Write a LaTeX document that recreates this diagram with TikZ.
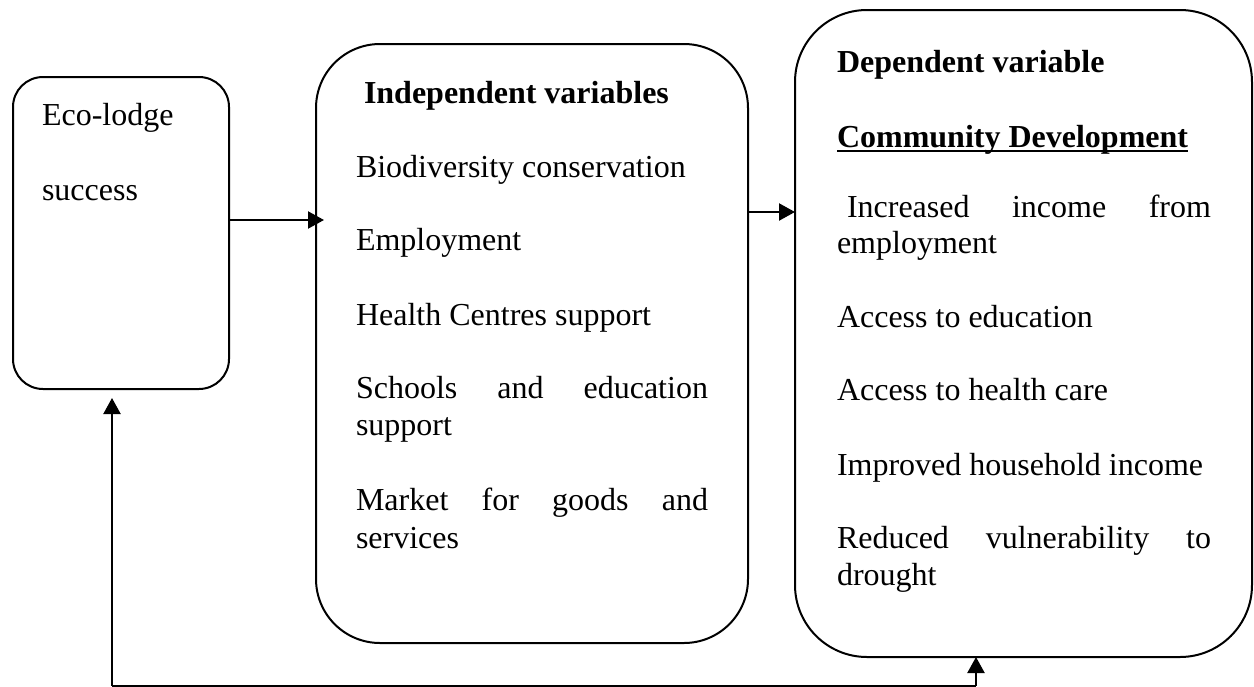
\documentclass[tikz,border=0pt]{standalone}
\usepackage{fontspec}
\setmainfont{Liberation Serif}
\usetikzlibrary{arrows.meta}

\newcommand\wordul[1]{\leavevmode\setbox0\hbox{#1}\rlap{\rule[-2.6pt]{\wd0}{0.9pt}}\box0}

\tikzset{
  frame/.style={draw, line width=1pt, inner sep=0pt, outer sep=0pt},
  txt/.style={anchor=base west, inner sep=0pt, outer sep=0pt, font=\fontsize{16}{18.5}\selectfont},
  flow/.style={line width=1.1pt, -{Triangle[length=8pt,width=8.5pt]}}
}

\begin{document}
\begin{tikzpicture}[x=0.5pt,y=-0.5pt]
            \useasboundingbox (0,0) rectangle (1254,686);

            \node[frame, rounded corners=15pt, minimum width=108pt, minimum height=156pt] (lodge) at (121,233) {};
            \node[frame, rounded corners=32pt, minimum width=216pt, minimum height=299.5pt] (indep) at (532,343.5) {};
            \node[frame, rounded corners=36pt, minimum width=228.5pt, minimum height=323.5pt] (dep) at (1023.5,333.5) {};

            \node[txt] (L1) at (42,125) {Eco-lodge};
            \node[txt] (L2) at (42,200) {success};

            \node[txt, font=\fontsize{16}{18.5}\selectfont\bfseries] (I0) at (364,103) {Independent variables};
            \node[txt] (I1) at (356,177) {Biodiversity conservation};
            \node[txt] (I2) at (356,250) {Employment};
            \node[txt] (I3) at (356,325) {Health Centres support};
            \node[txt] (I4) at (356,398) {\makebox[176pt][l]{Schools\hfill and\hfill education}};
            \node[txt] (I5) at (356,435) {support};
            \node[txt] (I6) at (356,510) {\makebox[176pt][l]{Market\hfill for\hfill goods\hfill and}};
            \node[txt] (I7) at (356,548) {services};

            \node[txt, font=\fontsize{16}{18.5}\selectfont\bfseries] (D0) at (837,72) {Dependent variable};
            \node[txt, font=\fontsize{16}{18.5}\selectfont\bfseries] (D1) at (837,147) {\wordul{Community Development}};
            \node[txt] (D2) at (847,217) {\makebox[182pt][l]{Increased\hfill income\hfill from}};
            \node[txt] (D3) at (837,253) {employment};
            \node[txt] (D4) at (837,327) {Access to education};
            \node[txt] (D5) at (837,400) {Access to health care};
            \node[txt] (D6) at (837,475) {Improved household income};
            \node[txt] (D7) at (837,548) {\makebox[187pt][l]{Reduced\hfill vulnerability\hfill to}};
            \node[txt] (D8) at (837,585) {drought};

            \coordinate (fbL) at (112,685.5);
            \coordinate (fbR) at (976,685.5);

            \draw[flow, shorten >=-4pt] ([yshift=6.5pt]lodge.east) -- ([yshift=6.5pt]lodge.east -| indep.west);
            \draw[flow] (indep.east |- 0,212) -- (dep.west |- 0,212);
            \draw[line width=1pt] (fbL) -- (fbR);
            \draw[flow, shorten >=4.5pt] (fbL) -- (fbL |- lodge.south);
            \draw[flow] (fbR) -- (fbR |- dep.south);
        \end{tikzpicture}
\end{document}
